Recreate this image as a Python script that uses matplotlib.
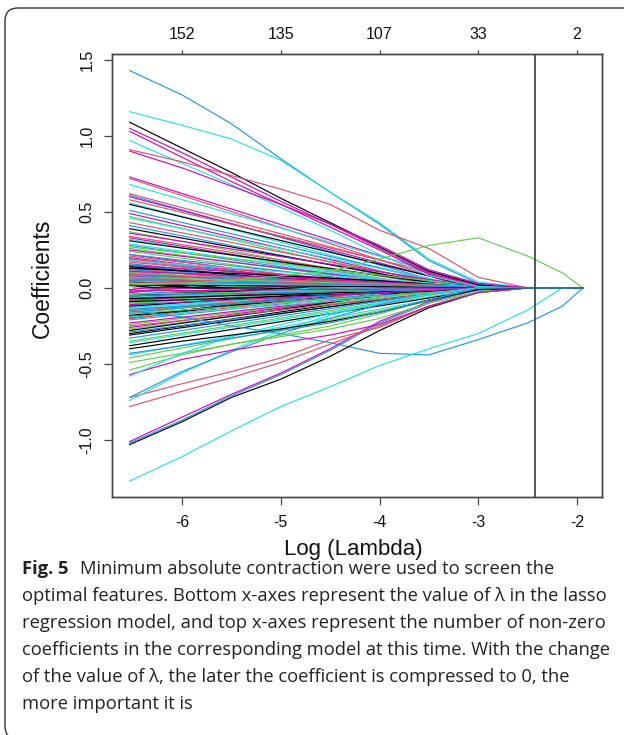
"""Lasso coefficient paths (glmnet style) with figure caption."""

import matplotlib
matplotlib.use("Agg")
import matplotlib.pyplot as plt
from matplotlib.patches import FancyBboxPatch
from matplotlib.transforms import IdentityTransform

plt.rcParams['font.family'] = ['Liberation Sans', 'DejaVu Sans']

# ---- data ----------------------------------------------------------------
X_START, X_END = -6.53, -1.94          # log(lambda) range of the path
CUT = -2.43                            # vertical line (chosen lambda)

X_TICKS = [-6, -5, -4, -3, -2]
X_LABELS = ["-6", "-5", "-4", "-3", "-2"]
TOP_LABELS = ["152", "135", "107", "33", "2"]
Y_TICKS = [-1.0, -0.5, 0.0, 0.5, 1.0, 1.5]
Y_LABELS = ["-1.0", "-0.5", "0.0", "0.5", "1.0", "1.5"]

# paths that stand out, sampled at these log(lambda) knots
KX = [-6.53, -6.0, -5.5, -5.0, -4.5, -4.0, -3.5, -3.0, -2.5, -2.15, -1.94]
blue_top = [1.43, 1.27, 1.08, 0.85, 0.63, 0.42, 0.18, 0.03, 0, 0, 0]
cyan_top = [1.16, 1.07, 0.98, 0.84, 0.63, 0.43, 0.19, 0.04, 0, 0, 0]
black_top = [1.09, 0.92, 0.76, 0.59, 0.43, 0.27, 0.11, 0.02, 0, 0, 0]
mag_a = [1.05, 0.89, 0.73, 0.57, 0.42, 0.26, 0.10, 0.01, 0, 0, 0]
mag_b = [1.03, 0.86, 0.70, 0.55, 0.40, 0.25, 0.09, 0, 0, 0, 0]
cyan_b = [0.97, 0.82, 0.68, 0.53, 0.38, 0.22, 0.08, 0.01, 0, 0, 0]
red_top = [0.91, 0.83, 0.74, 0.65, 0.55, 0.38, 0.26, 0.07, 0, 0, 0]
mag_c = [0.90, 0.79, 0.67, 0.55, 0.42, 0.28, 0.12, 0.03, 0, 0, 0]
green_bump = [0.02, 0.03, 0.05, 0.08, 0.11, 0.19, 0.28, 0.33, 0.21, 0.10, 0]
blue_low = [-0.15, -0.19, -0.25, -0.30, -0.36, -0.43, -0.44, -0.34, -0.23, -0.12, 0]
cyan_low = [-1.27, -1.11, -0.94, -0.78, -0.65, -0.51, -0.40, -0.30, -0.145, 0, 0]
black_low = [-1.03, -0.88, -0.72, -0.60, -0.45, -0.28, -0.13, -0.03, 0, 0, 0]
mag_low = [-1.01, -0.85, -0.70, -0.56, -0.40, -0.22, -0.09, -0.01, 0, 0, 0]
blue_low2 = [-1.02, -0.87, -0.71, -0.57, -0.41, -0.23, -0.10, 0, 0, 0, 0]
red_low = [-0.72, -0.63, -0.55, -0.46, -0.34, -0.26, -0.12, -0.03, 0, 0, 0]
red_low2 = [-0.78, -0.68, -0.59, -0.49, -0.37, -0.25, -0.12, -0.03, 0, 0, 0]
cyan_steep = [-0.74, -0.56, -0.41, -0.28, -0.18, -0.10, -0.04, 0, 0, 0, 0]
blue_steep = [-0.72, -0.55, -0.42, -0.30, -0.20, -0.11, -0.04, 0, 0, 0, 0]
green_low = [-0.49, -0.43, -0.37, -0.32, -0.27, -0.20, -0.10, -0.03, 0, 0, 0]
green_low2 = [-0.54, -0.44, -0.37, -0.31, -0.25, -0.17, -0.08, 0, 0, 0, 0]
mag_low2 = [-0.57, -0.47, -0.41, -0.36, -0.31, -0.24, -0.12, -0.03, 0, 0, 0]
cyan_low2 = [-0.58, -0.43, -0.32, -0.24, -0.17, -0.10, -0.04, 0, 0, 0, 0]
black_low2 = [-0.40, -0.35, -0.31, -0.27, -0.22, -0.16, -0.08, -0.01, 0, 0, 0]
blue_low3 = [-0.43, -0.38, -0.33, -0.28, -0.23, -0.16, -0.08, 0, 0, 0, 0]

# the rest of the fan: value at X_START and log(lambda) where it hits zero
CLUSTER_START = [
    0.02, -0.015, 0.012, -0.03, 0.025, -0.01, 0.018, -0.022,
    0.05, -0.04, 0.08, -0.07, 0.03, -0.06, 0.10, -0.09, 0.06, -0.03,
    0.04, -0.05, 0.07, -0.08, 0.09, -0.11, 0.025,
    0.12, -0.10, 0.15, -0.14, 0.08, -0.06, 0.18, -0.17, 0.10, -0.12,
    0.20, -0.19, 0.06, -0.08, 0.14, -0.15, 0.22, -0.20, 0.11, -0.09,
    0.16, -0.13, 0.07, -0.05, 0.13, -0.16, 0.19, -0.11,
    0.73, -0.30, 0.72, 0.10, -0.21, 0.68, 0.33, -0.12, 0.62, -0.27,
    0.61, 0.05, 0.60, -0.18, 0.58, 0.26, -0.33, 0.56, -0.08, 0.55,
    0.19, -0.24, 0.51, -0.36, 0.49, 0.14, -0.15, 0.47, -0.29, 0.46,
    0.09, -0.38, 0.43, -0.10, 0.41, 0.29, -0.26, 0.39, -0.20, 0.37,
    0.12, -0.44, 0.36, -0.31, 0.34, 0.24, -0.16, 0.32, -0.23, 0.31,
    0.21, -0.35, 0.28, -0.06, 0.25, -0.28, 0.17, -0.46, 0.22, -0.13,
    0.15, -0.07, 0.04, -0.04, 0.08, -0.19, 0.11, -0.09, 0.06, 0.27,
    -0.14, 0.03, -0.02, 0.13, -0.25, 0.07, -0.05, 0.18, -0.11, 0.02,
    0.09, -0.17, 0.05,
]
CLUSTER_ZERO = [
    -6.30, -6.42, -6.47, -6.12, -6.20, -6.36, -6.25, -6.08,
    -5.90, -5.30, -5.60, -5.10, -5.80, -5.45, -5.20, -5.05, -5.70, -5.95,
    -5.50, -5.35, -5.25, -5.15, -5.40, -5.02, -5.85,
    -4.20, -4.60, -4.10, -4.35, -4.85, -4.90, -4.05, -4.15, -4.50, -4.40,
    -4.08, -4.12, -4.95, -4.75, -4.30, -4.25, -4.02, -4.06, -4.55, -4.65,
    -4.18, -4.45, -4.80, -4.88, -4.38, -4.22, -4.10, -4.70,
    -2.96, -3.30, -3.12, -3.70, -3.45, -2.88, -3.40, -3.85, -2.93, -3.20,
    -3.17, -3.90, -3.04, -3.55, -2.82, -3.50, -3.08, -3.22, -3.95, -2.99,
    -3.60, -3.27, -3.11, -2.91, -3.25, -3.75, -3.65, -3.35, -2.97, -3.03,
    -3.80, -2.86, -3.14, -3.75, -3.30, -3.37, -3.42, -3.19, -3.60, -3.47,
    -3.55, -2.84, -2.94, -3.15, -3.24, -3.65, -3.52, -3.40, -3.33, -3.09,
    -3.80, -3.01, -3.48, -3.90, -3.31, -3.44, -3.70, -2.78, -3.46, -3.62,
    -2.90, -2.70, -2.20, -2.30, -2.40, -2.75, -2.60, -2.50, -2.25, -2.85,
    -2.65, -2.15, -2.45, -2.55, -2.90, -2.35, -2.60, -2.80, -2.95, -2.20,
    -2.70, -2.85, -2.50,
]

CAPTION_BOLD = "Fig. 5"
CAPTION = [
    "Minimum absolute contraction were used to screen the",
    "optimal features. Bottom x-axes represent the value of \u03bb in the lasso",
    "regression model, and top x-axes represent the number of non-zero",
    "coefficients in the corresponding model at this time. With the change",
    "of the value of \u03bb, the later the coefficient is compressed to 0, the",
    "more important it is",
]

# ---- drawing --------------------------------------------------------------
# R 4 default palette, col = 1:6
PAL = ["#000000", "#DF536B", "#61D04F", "#2297E6", "#28E2E5", "#CD0BBC"]

W, H = 624, 735
fig = plt.figure(figsize=(W / 100, H / 100), dpi=100)
ax = fig.add_axes([112 / W, 1 - 497 / H, (602 - 112) / W, (497 - 54) / H])

featured = [
    (blue_top, 3), (cyan_top, 4), (black_top, 0), (mag_a, 5), (mag_b, 5),
    (cyan_b, 4), (red_top, 1), (mag_c, 5), (green_bump, 2), (blue_low, 3),
    (cyan_low, 4), (black_low, 0), (mag_low, 5), (blue_low2, 3),
    (red_low, 1), (red_low2, 1), (cyan_steep, 4), (blue_steep, 3),
    (green_low, 2), (green_low2, 2), (mag_low2, 5), (cyan_low2, 4),
    (black_low2, 0), (blue_low3, 3),
]

lw = 0.85
for i, (v0, z) in enumerate(zip(CLUSTER_START, CLUSTER_ZERO)):
    ax.plot([X_START, z, X_END], [v0, 0, 0], color=PAL[i % 6], lw=lw)
for ys, c in featured:
    ax.plot(KX, ys, color=PAL[c], lw=lw)

ax.axvline(CUT, color="#3a3a3a", lw=1.2)

ax.set_xlim(-6.709, -1.747)
ax.set_ylim(-1.375, 1.539)
ax.set_xticks(X_TICKS)
ax.set_xticklabels(X_LABELS)
ax.set_yticks(Y_TICKS)
ax.set_yticklabels(Y_LABELS)
for lab in ax.get_yticklabels():
    lab.set_rotation(90)
    lab.set_va("center")

frame = "#444444"
for s in ax.spines.values():
    s.set_color(frame)
    s.set_linewidth(1.0)
ax.tick_params(axis="x", direction="out", length=5.8, width=0.9,
               color=frame, labelsize=11.5, pad=7.0, labelcolor="#111")
ax.tick_params(axis="y", direction="out", length=5.8, width=0.9,
               color=frame, labelsize=11.5, pad=6.9, labelcolor="#111")

top = ax.twiny()
top.set_xlim(ax.get_xlim())
top.set_xticks(X_TICKS)
top.set_xticklabels(TOP_LABELS)
top.tick_params(axis="x", direction="out", length=3.0, width=0.9,
                color=frame, labelsize=11.5, pad=5.5, labelcolor="#111")
for s in top.spines.values():
    s.set_color(frame)
    s.set_linewidth(1.0)

fig.text(353 / W, 1 - 549 / H, "Log (Lambda)", fontsize=16,
         ha="center", va="center", color="#111")
fig.text(42 / W, 1 - 278 / H, "Coefficients", fontsize=16.5, rotation=90,
         ha="center", va="center", color="#111")

# ---- caption ----------------------------------------------------------------
cap_font = ["Open Sans", "DejaVu Sans"]
renderer = fig.canvas.get_renderer()
probe = fig.text(0, 0, CAPTION[3], fontsize=12, family=cap_font)
cap_size = 12 * 585 / probe.get_window_extent(renderer).width
probe.remove()

x0 = 22
base = [574, 601, 628, 655, 682, 709]
b = fig.text(x0 / W, 1 - base[0] / H, CAPTION_BOLD, fontsize=cap_size,
             family=cap_font, weight="bold", va="baseline", color="#222")
bw = b.get_window_extent(renderer).width
for k, line in enumerate(CAPTION):
    x = x0 + (bw + 11 if k == 0 else 0)
    fig.text(x / W, 1 - base[k] / H, line, fontsize=cap_size,
             family=cap_font, va="baseline", color="#222")

# rounded frame around the whole figure (runs off the right/bottom edges)
border = FancyBboxPatch((5, -4), 640, H - 8 + 4,
                        boxstyle="round,pad=0,rounding_size=13",
                        transform=IdentityTransform(), fill=False,
                        ec="#333333", lw=1.0)
fig.patches.append(border)

fig.savefig("out.png", dpi=100)
